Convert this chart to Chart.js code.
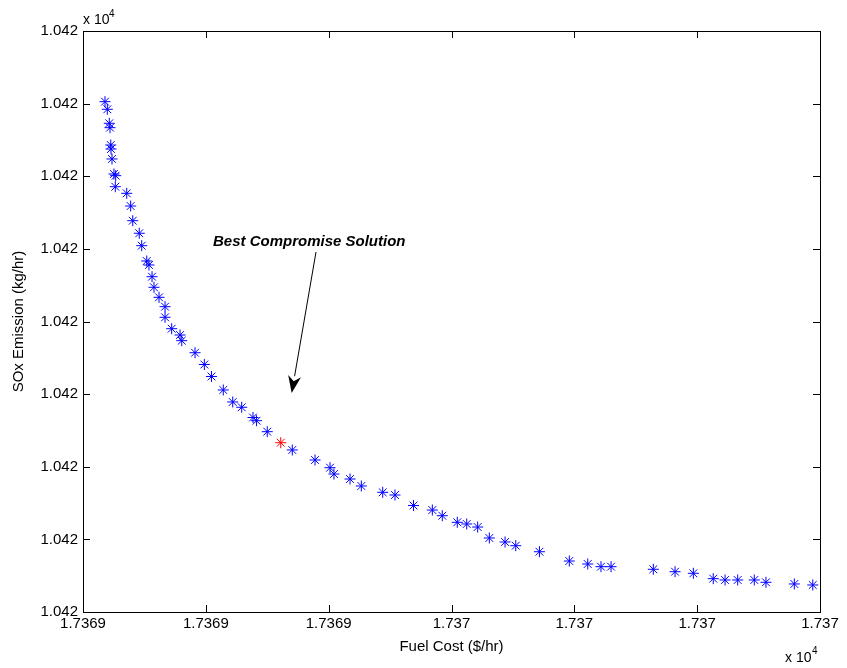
<!DOCTYPE html>
<html lang="en">
<head>
  <meta charset="UTF-8" />
  <title>Fuel Cost vs SOx Emission</title>
  <script src="https://cdn.jsdelivr.net/npm/chart.js"></script>
  <style>
    html, body { margin: 0; padding: 0; background: #fff; }
    #chart { display: block; }
  </style>
</head>
<body>
  <canvas id="chart" width="847" height="668"></canvas>

  <script>
    // Pareto front (Fuel Cost $/hr, SOx kg/hr)
    const fuelCost = [
      17369.2179, 17369.2198, 17369.2214, 17369.2220, 17369.2226, 17369.2228, 17369.2236,
      17369.2252, 17369.2266, 17369.2263, 17369.2356, 17369.2388, 17369.2405, 17369.2458,
      17369.2478, 17369.2519, 17369.2537, 17369.2562, 17369.2578, 17369.2619, 17369.2668,
      17369.2668, 17369.2722, 17369.2790, 17369.2804, 17369.2912, 17369.2988, 17369.3046,
      17369.3142, 17369.3219, 17369.3292, 17369.3384, 17369.3413, 17369.3500, 17369.3704,
      17369.3889, 17369.4011, 17369.4043, 17369.4174, 17369.4266, 17369.4440, 17369.4540,
      17369.4691, 17369.4844, 17369.4925, 17369.5047, 17369.5124, 17369.5213, 17369.5308,
      17369.5436, 17369.5523, 17369.5716, 17369.5959, 17369.6109, 17369.6217, 17369.6299,
      17369.6643, 17369.6820, 17369.6969, 17369.7131, 17369.7227, 17369.7330, 17369.7465,
      17369.7560, 17369.7791, 17369.7941
    ];
    const soxEmission = [
      10420.7027, 10420.6922, 10420.6729, 10420.6669, 10420.6430, 10420.6375, 10420.6238,
      10420.6031, 10420.6008, 10420.5856, 10420.5765, 10420.5590, 10420.5388, 10420.5215,
      10420.5044, 10420.4833, 10420.4778, 10420.4617, 10420.4471, 10420.4333, 10420.4204,
      10420.4058, 10420.3901, 10420.3814, 10420.3736, 10420.3570, 10420.3408, 10420.3243,
      10420.3057, 10420.2892, 10420.2819, 10420.2678, 10420.2634, 10420.2483, 10420.2231,
      10420.2093, 10420.1987, 10420.1900, 10420.1831, 10420.1735, 10420.1648, 10420.1611,
      10420.1466, 10420.1404, 10420.1326, 10420.1235, 10420.1212, 10420.1170, 10420.1019,
      10420.0964, 10420.0913, 10420.0830, 10420.0702, 10420.0661, 10420.0624, 10420.0624,
      10420.0588, 10420.0555, 10420.0533, 10420.0459, 10420.0441, 10420.0441, 10420.0441,
      10420.0409, 10420.0386, 10420.0372
    ];
    const bestCost = 17369.3610;
    const bestSox = 10420.2331;

    const xTicks = [17369.2, 17369.3, 17369.4, 17369.5, 17369.6, 17369.7, 17369.8];
    const xTickLabels = ['1.7369', '1.7369', '1.7369', '1.737', '1.737', '1.737', '1.737'];
    const yTicks = [10420.0, 10420.1, 10420.2, 10420.3, 10420.4, 10420.5, 10420.6, 10420.7, 10420.8];
    const yTickLabels = ['1.042', '1.042', '1.042', '1.042', '1.042', '1.042', '1.042', '1.042', '1.042'];

    // annotation: text anchor, arrow tail and tip (data coords)
    const noteText = 'Best Compromise Solution';
    const notePos = { x: 17369.3058, y: 10420.5099 };
    const arrowFrom = { x: 17369.3897, y: 10420.4957 };
    const arrowTo = { x: 17369.3699, y: 10420.3016 };

    const FONT = '"Liberation Sans", Arial, Helvetica, sans-serif';

    // box, inward ticks, x10^4 multipliers and the arrow note
    const matlabAxes = {
      id: 'matlabAxes',
      afterDraw(chart) {
        const { ctx, chartArea: a, scales: { x, y } } = chart;
        const tl = 7;
        ctx.save();
        ctx.strokeStyle = '#000';
        ctx.lineWidth = 1;
        ctx.strokeRect(a.left + 0.5, a.top + 0.5, a.right - a.left, a.bottom - a.top);
        ctx.beginPath();
        xTicks.forEach(v => {
          const px = Math.round(x.getPixelForValue(v)) + 0.5;
          ctx.moveTo(px, a.bottom); ctx.lineTo(px, a.bottom - tl);
          ctx.moveTo(px, a.top); ctx.lineTo(px, a.top + tl);
        });
        yTicks.forEach(v => {
          const py = Math.round(y.getPixelForValue(v)) + 0.5;
          ctx.moveTo(a.left, py); ctx.lineTo(a.left + tl, py);
          ctx.moveTo(a.right, py); ctx.lineTo(a.right - tl, py);
        });
        ctx.stroke();

        // x 10^4
        ctx.fillStyle = '#000';
        ctx.textBaseline = 'alphabetic';
        ctx.textAlign = 'left';
        ctx.font = '14px ' + FONT;
        ctx.fillText('x 10', a.left, a.top - 7);
        ctx.fillText('x 10', a.right - 35, a.bottom + 50);
        ctx.font = '10px ' + FONT;
        ctx.fillText('4', a.left + 26, a.top - 14);
        ctx.fillText('4', a.right - 8, a.bottom + 42);

        // note
        ctx.font = 'italic bold 15px ' + FONT;
        ctx.textBaseline = 'middle';
        ctx.fillText(noteText, x.getPixelForValue(notePos.x), y.getPixelForValue(notePos.y));

        const x0 = x.getPixelForValue(arrowFrom.x), y0 = y.getPixelForValue(arrowFrom.y);
        const x1 = x.getPixelForValue(arrowTo.x), y1 = y.getPixelForValue(arrowTo.y);
        const ang = Math.atan2(y1 - y0, x1 - x0);
        const hl = 17, hw = 6.5;
        const bx = x1 - hl * Math.cos(ang), by = y1 - hl * Math.sin(ang);
        ctx.beginPath();
        ctx.moveTo(x0, y0);
        ctx.lineTo(bx, by);
        ctx.stroke();
        const nx = -Math.sin(ang), ny = Math.cos(ang);
        ctx.beginPath();
        ctx.moveTo(x1, y1);
        ctx.lineTo(bx + nx * hw, by + ny * hw);
        ctx.lineTo(x1 - 12 * Math.cos(ang), y1 - 12 * Math.sin(ang));
        ctx.lineTo(bx - nx * hw, by - ny * hw);
        ctx.closePath();
        ctx.fill();
        ctx.restore();
      }
    };

    const tickFont = { family: FONT, size: 15 };

    new Chart(document.getElementById('chart'), {
      type: 'scatter',
      data: {
        datasets: [
          {
            data: fuelCost.map((c, i) => ({ x: c, y: soxEmission[i] })),
            pointStyle: 'star',
            pointRadius: 5.5,
            borderColor: '#0000ff',
            backgroundColor: '#0000ff',
            borderWidth: 1
          },
          {
            data: [{ x: bestCost, y: bestSox }],
            pointStyle: 'star',
            pointRadius: 5.5,
            borderColor: '#ff0000',
            backgroundColor: '#ff0000',
            borderWidth: 1
          }
        ]
      },
      options: {
        responsive: false,
        animation: false,
        layout: { padding: { top: 31, right: 27, left: 0, bottom: 0 } },
        plugins: { legend: { display: false }, tooltip: { enabled: false } },
        scales: {
          x: {
            type: 'linear',
            min: xTicks[0],
            max: xTicks[xTicks.length - 1],
            afterBuildTicks: s => { s.ticks = xTicks.map(v => ({ value: v })); },
            afterFit: s => { s.height = 56; },
            ticks: {
              autoSkip: false, maxRotation: 0, padding: 3, color: '#000', font: tickFont,
              callback: (v, i) => xTickLabels[i]
            },
            grid: { display: false, drawTicks: false },
            border: { display: false },
            title: {
              display: true, text: 'Fuel Cost ($/hr)', color: '#000',
              font: tickFont, padding: { top: 0, bottom: 12 }
            }
          },
          y: {
            type: 'linear',
            min: yTicks[0],
            max: yTicks[yTicks.length - 1],
            afterBuildTicks: s => { s.ticks = yTicks.map(v => ({ value: v })); },
            afterFit: s => { s.width = 83; },
            ticks: {
              autoSkip: false, padding: 5, color: '#000', font: tickFont,
              callback: (v, i) => yTickLabels[i]
            },
            grid: { display: false, drawTicks: false },
            border: { display: false },
            title: {
              display: true, text: 'SOx Emission (kg/hr)', color: '#000',
              font: tickFont, padding: { top: 10, bottom: 0 }
            }
          }
        }
      },
      plugins: [matlabAxes]
    });
  </script>
</body>
</html>
